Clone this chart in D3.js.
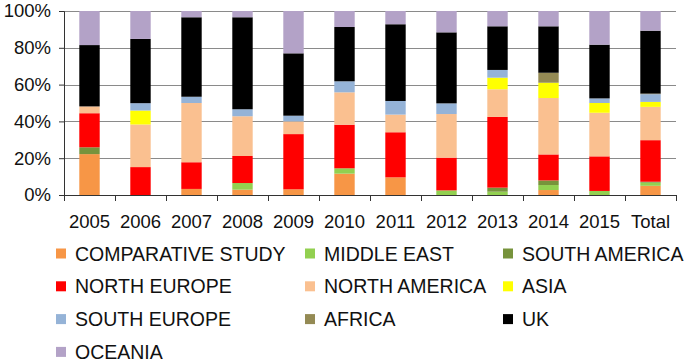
<!DOCTYPE html>
<html>
<head>
<meta charset="utf-8">
<script src="https://cdn.jsdelivr.net/npm/d3@7"></script>
<style>
  body { margin: 0; background: #fff; }
  svg { display: block; font-family: "Liberation Sans", Arial, Helvetica, sans-serif; }
</style>
</head>
<body>
<div id="chart"></div>
<script>
// categories along the x axis
var years = ['2005', '2006', '2007', '2008', '2009', '2010', '2011', '2012', '2013', '2014', '2015', 'Total']

// series, bottom to top of each bar
var regions = ['COMPARATIVE STUDY', 'MIDDLE EAST', 'SOUTH AMERICA', 'NORTH EUROPE', 'NORTH AMERICA',
  'ASIA', 'SOUTH EUROPE', 'AFRICA', 'UK', 'OCEANIA']
var colors = ['#F79646', '#92D050', '#77933C', '#FF0000', '#FAC090',
  '#FFFF00', '#95B3D7', '#948A54', '#000000', '#B3A2C7']

// share of papers per year (%)
var comparativeStudy = [22.2, 0, 3.3, 2.9, 3.1, 11.6, 9.6, 0, 0, 2.7, 0, 5.0]
var middleEast       = [0, 0, 0, 3.6, 0, 2.9, 0, 2.5, 1.8, 2.7, 2.2, 1.7]
var southAmerica     = [3.7, 0, 0, 0, 0, 0, 0, 0, 2.2, 2.5, 0, 0.5]
var northEurope      = [18.5, 15.2, 14.5, 14.7, 30.0, 23.7, 24.5, 17.8, 38.4, 14.1, 18.8, 22.6]
var northAmerica     = [3.7, 23.2, 32.2, 21.6, 6.9, 17.6, 9.6, 23.7, 15.0, 30.6, 23.7, 18.1]
var asia             = [0, 7.6, 0, 0, 0, 0, 0, 0, 6.3, 8.3, 5.3, 2.7]
var southEurope      = [0, 4.0, 3.4, 3.8, 3.1, 6.0, 7.4, 5.8, 4.2, 0, 2.5, 4.2]
var africa           = [0, 0, 0, 0, 0, 0, 0, 0, 0, 5.4, 0, 0.3]
var uk               = [33.3, 35.0, 43.2, 50.0, 33.9, 29.5, 41.7, 38.6, 23.7, 25.2, 29.2, 34.2]
var oceania          = [18.5, 15.2, 3.4, 3.4, 23.0, 8.7, 7.2, 11.6, 8.3, 8.3, 18.3, 10.7]

var yTicks = [0, 0.2, 0.4, 0.6, 0.8, 1]

var seriesValues = [comparativeStudy, middleEast, southAmerica, northEurope, northAmerica,
  asia, southEurope, africa, uk, oceania]

// one row per year for d3.stack
var rows = years.map(function (yr, i) {
  var row = { year: yr }
  regions.forEach(function (r, k) { row[r] = seriesValues[k][i] })
  return row
})

var width = 685, height = 363
var margin = { top: 11, right: 9, bottom: 168, left: 64 }
var plotW = width - margin.left - margin.right
var plotH = height - margin.top - margin.bottom

var svg = d3.select('#chart').append('svg')
  .attr('width', width)
  .attr('height', height)

var g = svg.append('g')
  .attr('transform', 'translate(' + margin.left + ',' + margin.top + ')')

var x = d3.scaleBand()
  .domain(years)
  .range([0, plotW])
  .paddingInner(0.6)
  .paddingOuter(0.3)

var y = d3.scaleLinear()
  .domain([0, 1])
  .range([plotH, 0])

var stacked = d3.stack()
  .keys(regions)
  .offset(d3.stackOffsetExpand)(rows)

// gridlines
g.append('g')
  .selectAll('line')
  .data(yTicks.slice(1))
  .enter()
  .append('line')
  .attr('x1', 0)
  .attr('x2', plotW)
  .attr('y1', function (d) { return Math.round(y(d)) + 0.5 })
  .attr('y2', function (d) { return Math.round(y(d)) + 0.5 })
  .attr('stroke', '#8a8a8a')
  .attr('stroke-width', 1)

// bars
g.append('g')
  .selectAll('g')
  .data(stacked)
  .enter()
  .append('g')
  .attr('fill', function (d, i) { return colors[i] })
  .selectAll('rect')
  .data(function (d) { return d })
  .enter()
  .append('rect')
  .attr('x', function (d) { return x(d.data.year) })
  .attr('width', x.bandwidth())
  .attr('y', function (d) { return y(d[1]) })
  .attr('height', function (d) { return Math.max(0, y(d[0]) - y(d[1])) })

// Y axis
var yAxis = g.append('g')
  .call(d3.axisLeft(y).tickValues(yTicks).tickFormat(d3.format('.0%')).tickSize(5).tickPadding(8))
yAxis.select('.domain').attr('stroke', '#333')
yAxis.selectAll('.tick line').attr('stroke', '#333')
yAxis.selectAll('text')
  .style('font-size', '18.5px')
  .attr('fill', '#111')

// X axis, ticks on the category boundaries
var xAxis = g.append('g')
  .attr('transform', 'translate(0,' + plotH + ')')
  .call(d3.axisBottom(x).tickSize(0).tickPadding(20))
xAxis.select('.domain').attr('stroke', '#333')
xAxis.selectAll('text')
  .style('font-size', '18.5px')
  .attr('fill', '#111')

xAxis.selectAll('.bound')
  .data(d3.range(years.length + 1))
  .enter()
  .append('line')
  .attr('class', 'bound')
  .attr('x1', function (i) { return Math.round(i * x.step()) + 0.5 })
  .attr('x2', function (i) { return Math.round(i * x.step()) + 0.5 })
  .attr('y1', 0)
  .attr('y2', 6)
  .attr('stroke', '#333')

// legend, 3 columns, row by row
var legendCols = [56, 305, 503]
var legend = svg.append('g')
  .selectAll('g')
  .data(regions)
  .enter()
  .append('g')
  .attr('transform', function (d, i) {
    return 'translate(' + legendCols[i % 3] + ',' + (253.5 + Math.floor(i / 3) * 32.8) + ')'
  })

legend.append('rect')
  .attr('x', 0)
  .attr('y', -5)
  .attr('width', 10)
  .attr('height', 10)
  .attr('fill', function (d, i) { return colors[i] })

legend.append('text')
  .attr('x', 19)
  .attr('y', 7)
  .style('font-size', '19.5px')
  .attr('fill', '#111')
  .text(function (d) { return d })
</script>
</body>
</html>
